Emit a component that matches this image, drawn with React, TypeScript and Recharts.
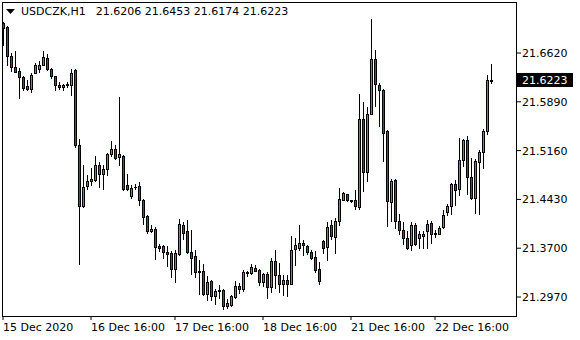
import { Bar, ComposedChart, XAxis, YAxis } from 'recharts'

// USDCZK H1 candles, oldest first
const opens = [
  21.7069, 21.7009, 21.6575, 21.6411, 21.6351, 21.6261, 21.6126, 21.6082, 21.6328, 21.6388,
  21.6448, 21.6538, 21.6388, 21.6269, 21.6141, 21.6111, 21.6134, 21.6134, 21.6366, 21.5244,
  21.4324, 21.4638, 21.4698, 21.472, 21.4952, 21.4817, 21.4885, 21.5102, 21.5191, 21.5057,
  21.5072, 21.4645, 21.4481, 21.4615, 21.463, 21.4421, 21.4182, 21.395, 21.3987, 21.3733,
  21.3733, 21.3643, 21.3621, 21.3396, 21.3613, 21.4047, 21.3957, 21.3636, 21.3583, 21.3359,
  21.3359, 21.3022, 21.3209, 21.2992, 21.3067, 21.3075, 21.2843, 21.2858, 21.2977, 21.3142,
  21.3097, 21.3344, 21.3336, 21.3411, 21.3374, 21.3202, 21.3321, 21.3127, 21.3508, 21.3306,
  21.3172, 21.3224, 21.3172, 21.3695, 21.371, 21.3785, 21.374, 21.3636, 21.3576, 21.3396,
  21.3808, 21.3725, 21.4047, 21.3875, 21.4114, 21.4428, 21.4511, 21.4421, 21.4428, 21.4309,
  21.564, 21.4847, 21.5715, 21.6523, 21.6141, 21.6074, 21.5453, 21.4384, 21.4713, 21.4114,
  21.3972, 21.386, 21.3748, 21.4047, 21.386, 21.389, 21.395, 21.4084, 21.3927, 21.392,
  21.401, 21.4249, 21.4331, 21.466, 21.4593, 21.5019, 21.5319, 21.4758, 21.4458, 21.4997,
  21.5132, 21.5453, 21.6206,
]
const highs = [
  21.7084, 21.7024, 21.662, 21.665, 21.6396, 21.6276, 21.6216, 21.6321, 21.6471, 21.65,
  21.665, 21.6605, 21.6396, 21.6276, 21.6186, 21.6149, 21.6186, 21.6388, 21.6381, 21.5341,
  21.4945, 21.4795, 21.49, 21.5072, 21.4997, 21.4952, 21.5117, 21.5304, 21.5244, 21.5969,
  21.5087, 21.4817, 21.4645, 21.466, 21.4683, 21.4443, 21.4197, 21.4047, 21.401, 21.377,
  21.3748, 21.3733, 21.3651, 21.368, 21.4137, 21.4099, 21.4122, 21.3972, 21.3673, 21.3523,
  21.3464, 21.3277, 21.3224, 21.3097, 21.3149, 21.3097, 21.2947, 21.3, 21.3209, 21.3187,
  21.3374, 21.3366, 21.3464, 21.3449, 21.3396, 21.3329, 21.3351, 21.3561, 21.3666, 21.3486,
  21.3299, 21.3299, 21.3882, 21.386, 21.4047, 21.383, 21.3755, 21.368, 21.3651, 21.3501,
  21.3823, 21.4099, 21.4122, 21.4159, 21.4608, 21.4548, 21.4518, 21.4428, 21.4571, 21.6014,
  21.588, 21.5805, 21.7136, 21.6672, 21.6164, 21.6089, 21.5468, 21.4728, 21.4728, 21.4219,
  21.4099, 21.395, 21.4099, 21.4084, 21.395, 21.395, 21.4122, 21.4114, 21.3972, 21.4025,
  21.4271, 21.4361, 21.4668, 21.472, 21.5356, 21.5341, 21.5378, 21.5042, 21.5027, 21.5169,
  21.5476, 21.6291, 21.6453,
]
const lows = [
  21.674, 21.6441, 21.6351, 21.6336, 21.5947, 21.6067, 21.6067, 21.6037, 21.6321, 21.6343,
  21.6441, 21.6366, 21.6246, 21.6067, 21.6089, 21.6067, 21.6111, 21.5992, 21.5221, 21.3471,
  21.4316, 21.4586, 21.4645, 21.4705, 21.4623, 21.4586, 21.4802, 21.5072, 21.5034, 21.4945,
  21.4571, 21.4571, 21.4458, 21.4593, 21.4346, 21.4062, 21.3935, 21.3942, 21.3546, 21.3651,
  21.3561, 21.3434, 21.3262, 21.3202, 21.3598, 21.3845, 21.3621, 21.3321, 21.3262, 21.3015,
  21.3, 21.2932, 21.2918, 21.2865, 21.2962, 21.2798, 21.2813, 21.2843, 21.2962, 21.3037,
  21.3067, 21.3277, 21.3321, 21.3359, 21.3149, 21.3134, 21.2962, 21.3052, 21.3112, 21.3052,
  21.3, 21.2985, 21.3164, 21.3449, 21.3666, 21.3591, 21.3613, 21.3546, 21.3351, 21.3172,
  21.3621, 21.3531, 21.3845, 21.3621, 21.4047, 21.4414, 21.4399, 21.4391, 21.4294, 21.4294,
  21.4563, 21.4698, 21.5708, 21.582, 21.5521, 21.5012, 21.4032, 21.4114, 21.3995, 21.392,
  21.377, 21.3688, 21.3673, 21.3755, 21.371, 21.371, 21.371, 21.3785, 21.3875, 21.3912,
  21.3995, 21.4197, 21.4212, 21.4346, 21.4496, 21.493, 21.4511, 21.4443, 21.4234, 21.4212,
  21.4907, 21.5408, 21.6174,
]
const closes = [
  21.6994, 21.6575, 21.6411, 21.6343, 21.6254, 21.6097, 21.6082, 21.6298, 21.6441, 21.6448,
  21.6553, 21.6381, 21.6269, 21.6134, 21.6111, 21.6141, 21.6149, 21.6328, 21.5251, 21.4324,
  21.4623, 21.4705, 21.4735, 21.4952, 21.4817, 21.4885, 21.5102, 21.5191, 21.5042, 21.5102,
  21.4593, 21.4586, 21.4608, 21.4615, 21.4421, 21.4174, 21.395, 21.3987, 21.3725, 21.371,
  21.3636, 21.3613, 21.3396, 21.3621, 21.4062, 21.3935, 21.3636, 21.3561, 21.3351, 21.3351,
  21.3015, 21.3202, 21.2992, 21.3067, 21.3082, 21.2843, 21.288, 21.2985, 21.3134, 21.3097,
  21.3344, 21.3336, 21.3426, 21.3366, 21.3202, 21.3321, 21.3127, 21.3508, 21.3306, 21.3172,
  21.3224, 21.3172, 21.368, 21.3748, 21.3785, 21.3748, 21.3636, 21.3561, 21.3374, 21.3217,
  21.371, 21.401, 21.3882, 21.4107, 21.4443, 21.4533, 21.4414, 21.4399, 21.4324, 21.564,
  21.4847, 21.5715, 21.6523, 21.6156, 21.6074, 21.5416, 21.4399, 21.4698, 21.4114, 21.3972,
  21.386, 21.371, 21.4047, 21.377, 21.392, 21.392, 21.4069, 21.3912, 21.392, 21.3995,
  21.4197, 21.4331, 21.466, 21.4578, 21.5019, 21.5326, 21.4758, 21.4458, 21.5004, 21.5132,
  21.5453, 21.6216, 21.6223,
]

const lastClose = 21.6223
const priceTicks = [21.297, 21.37, 21.443, 21.516, 21.589, 21.662]
const priceMin = 21.2686
const priceMax = 21.7368
const timeTickIdx = [0, 22, 43, 65, 87, 108]
const timeTickLabels = ['15 Dec 2020', '16 Dec 16:00', '17 Dec 16:00', '18 Dec 16:00', '21 Dec 16:00', '22 Dec 16:00']
const header = ['21.6206', '21.6453', '21.6174', '21.6223']
const EMPTY_SLOTS = 6 // chart shift on the right

const BULL = '#32b432'
const BEAR = '#e01414'
const INK = '#000'
const FONT = '"DejaVu Sans", sans-serif'

const data = [
  ...opens.map((o, i) => ({ i, o, h: highs[i], l: lows[i], c: closes[i] })),
  ...Array.from({ length: EMPTY_SLOTS }, (_, k) => ({ i: opens.length + k })),
]

function Candle(props: any) {
  const { x, y, width, height, payload } = props
  if (payload?.o == null) return null
  const { o, h, l, c } = payload
  const top = Math.min(y, y + height)
  const bot = Math.max(y, y + height)
  const px = (v: number) => Math.round(h === l ? top : top + ((h - v) / (h - l)) * (bot - top))
  const cx = Math.round(x + width / 2)
  const yH = px(h)
  const yL = px(l)
  const bTop = Math.min(px(o), px(c))
  const bBot = Math.max(px(o), px(c))
  const fill = c > o ? BULL : c < o ? BEAR : INK
  return (
    <g>
      <line x1={cx + 0.5} x2={cx + 0.5} y1={yH} y2={yL + 1} stroke={INK} />
      {bBot - bTop >= 1 ? (
        <rect x={cx - 0.5} y={bTop + 0.5} width={2} height={bBot - bTop} fill={fill} stroke={INK} />
      ) : (
        <line x1={cx - 1} x2={cx + 2} y1={bTop + 0.5} y2={bTop + 0.5} stroke={INK} />
      )}
    </g>
  )
}

function PriceTick({ x, y, payload }: any) {
  const v = payload.value as number
  const label = v.toFixed(4)
  if (v === lastClose) {
    return (
      <g>
        <rect x={x - 6} y={Math.round(y) - 7} width={56} height={14} fill={INK} />
        <text x={x - 1} y={y + 4} fill="#fff" fontSize={11} fontFamily={FONT}>
          {label}
        </text>
      </g>
    )
  }
  return (
    <text x={x - 1} y={y + 4} fill={INK} fontSize={11} fontFamily={FONT}>
      {label}
    </text>
  )
}

function TimeTick({ x, y, payload }: any) {
  const k = timeTickIdx.indexOf(payload.value)
  return (
    <text x={x} y={y + 9} fill={INK} fontSize={11} fontFamily={FONT}>
      {timeTickLabels[k]}
    </text>
  )
}

export default function App() {
  return (
    <div style={{ position: 'fixed', left: 0, top: 0, width: 580, height: 340, background: '#fff' }}>
      <ComposedChart width={580} height={340} data={data} margin={{ top: 3, right: 0, bottom: 0, left: 1 }}>
        <XAxis
          dataKey="i"
          type="category"
          ticks={timeTickIdx}
          interval={0}
          height={24}
          axisLine={false}
          tickLine={{ stroke: INK }}
          tickSize={4}
          tickMargin={2}
          tick={<TimeTick />}
        />
        <YAxis
          orientation="right"
          type="number"
          domain={[priceMin, priceMax]}
          allowDataOverflow
          ticks={[...priceTicks, lastClose]}
          interval={0}
          width={63}
          axisLine={false}
          tickLine={{ stroke: INK }}
          tickSize={4}
          tickMargin={2}
          tick={<PriceTick />}
        />
        <Bar dataKey={(d: any) => (d.o == null ? null : [d.l, d.h])} shape={<Candle />} isAnimationActive={false} />
      </ComposedChart>
      <div
        style={{
          position: 'absolute', left: 2, top: 2, width: 515, height: 315,
          border: '1px solid #000', boxSizing: 'border-box', pointerEvents: 'none',
        }}
      />
      <div
        style={{
          position: 'absolute', left: 6, top: 5, fontFamily: FONT, fontSize: 11,
          color: '#000', whiteSpace: 'pre', display: 'flex', alignItems: 'center', lineHeight: '14px',
        }}
      >
        <svg width={9} height={6} style={{ marginRight: 6 }}>
          <polygon points="0,0 9,0 4.5,5" fill={INK} />
        </svg>
        <span>USDCZK,H1</span>
        <span style={{ marginLeft: 10 }}>{header.join(' ')}</span>
      </div>
    </div>
  )
}
